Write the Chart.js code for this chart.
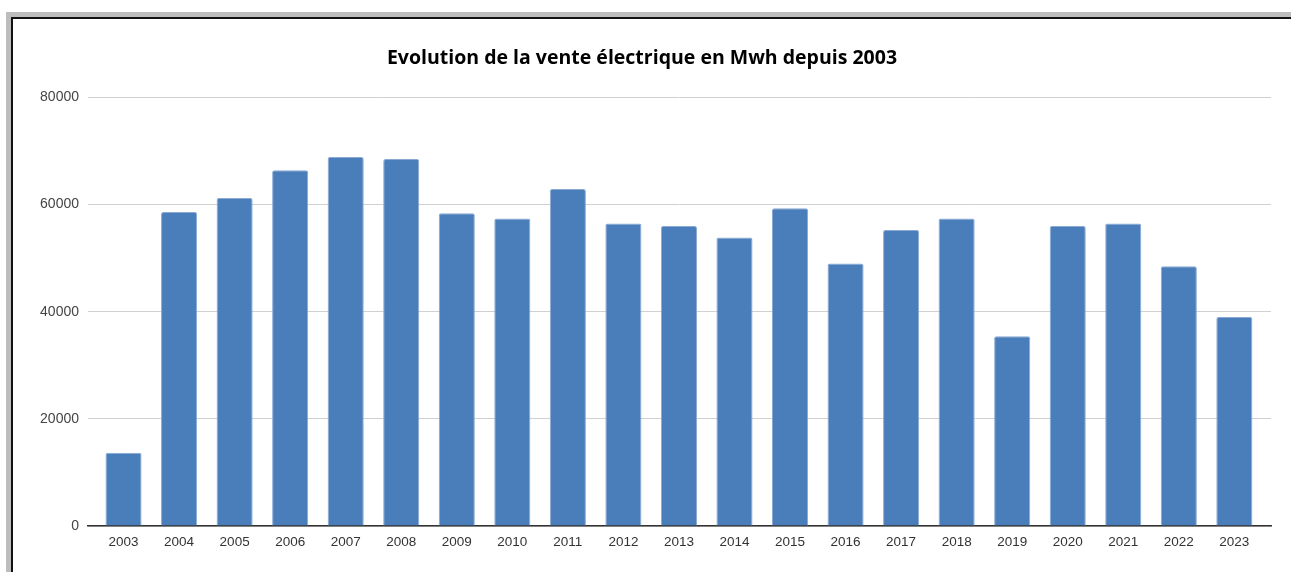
<!DOCTYPE html>
<html>
<head>
<meta charset="utf-8">
<title>Vente électrique</title>
<script src="https://cdn.jsdelivr.net/npm/chart.js"></script>
<style>
  html, body { margin: 0; padding: 0; background: #fff; overflow: hidden; }
  .frame {
    position: absolute; left: 6px; top: 12px; width: 1300px; height: 600px;
    border-left: 5px solid #bdbdbd; border-top: 5px solid #bdbdbd;
  }
  .inner {
    position: absolute; left: 0; top: 0; right: 0; bottom: 0;
    border-left: 2px solid #111; border-top: 2px solid #111;
  }
  #wrap { position: absolute; left: 13px; top: 19px; width: 1278px; height: 553px; }
</style>
</head>
<body>
<div class="frame"><div class="inner"></div></div>
<div id="wrap"><canvas id="myChart"></canvas></div>
<script>
  const years = ['2003','2004','2005','2006','2007','2008','2009','2010','2011','2012',
                 '2013','2014','2015','2016','2017','2018','2019','2020','2021','2022','2023'];
  const ventes = [13670, 58620, 61230, 66390, 68880, 68500, 58370, 57380, 62900, 56450,
                  56000, 53840, 59300, 49000, 55260, 57380, 35430, 56000, 56450, 48490, 39030];
  const yTicks = [0, 20000, 40000, 60000, 80000];

  // bars sit on a numeric x axis so the end margins can match the original
  const points = years.map((y, i) => ({ x: i, y: ventes[i] }));

  let ctx = document.getElementById('myChart').getContext('2d');
  let thisChart = new Chart(ctx, {
    type: 'bar',
    data: {
      datasets: [{
        data: points,
        backgroundColor: '#4a7ebb',
        borderColor: '#8aaad3',
        borderWidth: 1,
        borderSkipped: 'bottom',
        borderRadius: 2,
        categoryPercentage: 1,
        barPercentage: 0.65
      }]
    },
    options: {
      responsive: true,
      maintainAspectRatio: false,
      animation: false,
      layout: { padding: { left: 0, right: 20, top: 0, bottom: 0 } },
      plugins: {
        legend: { display: false },
        tooltip: { enabled: false },
        title: {
          display: true,
          text: 'Evolution de la vente électrique en Mwh depuis 2003',
          color: '#000',
          font: { family: 'Open Sans', size: 19.5, weight: 'bold', lineHeight: 1.2 },
          padding: { top: 28, bottom: 27 }
        }
      },
      scales: {
        x: {
          type: 'linear',
          offset: false,
          min: -0.64,
          max: 20.66,
          afterBuildTicks(scale) { scale.ticks = years.map((y, i) => ({ value: i })); },
          grid: { display: false, drawTicks: false },
          border: { display: true, color: '#333', width: 1.5 },
          ticks: {
            color: '#333', padding: 8, maxRotation: 0, autoSkip: false,
            font: { family: 'Liberation Sans', size: 13.5 },
            callback: (v) => years[v]
          },
          afterFit(scale) { scale.height = 46; }
        },
        y: {
          min: 0,
          max: 80000,
          afterBuildTicks(scale) { scale.ticks = yTicks.map(v => ({ value: v })); },
          grid: { color: '#d0d0d0', lineWidth: 1, drawTicks: false },
          border: { display: false },
          ticks: {
            color: '#444', padding: 9,
            font: { family: 'Liberation Sans', size: 14 },
            callback: (v) => String(v)
          },
          afterFit(scale) { scale.width = 75; }
        }
      }
    }
  });
</script>
</body>
</html>
